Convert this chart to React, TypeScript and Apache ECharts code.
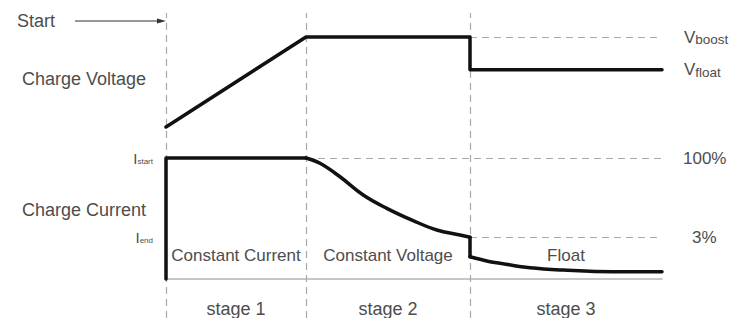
import React, { useEffect, useRef } from "react";
import * as echarts from "echarts";

// stage boundaries (time units)
const stageBounds = [0, 3.5, 7.6, 12.4];
const stageNames = ["stage 1", "stage 2", "stage 3"];
const modeNames = ["Constant Current", "Constant Voltage", "Float"];

// charge voltage (V)
const voltageTime = [0, 3.5, 7.6, 7.6, 12.4];
const voltageLevel = [12.2, 14.4, 14.4, 13.6, 13.6];
const vBoost = 14.4;

// charge current (relative level)
const ccTime = [0, 0, 3.5];
const ccLevel = [0, 100, 100];
const cvTime = [3.5, 3.85, 4.35, 4.93, 5.52, 6.18, 6.77, 7.35, 7.6];
const cvLevel = [100, 95.6, 84.5, 69.4, 58.4, 48.2, 40.5, 36.4, 34.5];
const dropTime = [7.6, 7.6];
const dropLevel = [34.5, 18.4];
const floatTime = [7.6, 8.1, 8.35, 9.1, 9.93, 11.18, 12.4];
const floatLevel = [18.4, 14.3, 13.0, 9.3, 7.4, 6.0, 6.0];
const iStart = 100;
const iEnd = 34.5;

const FONT = "'Liberation Sans', Arial, sans-serif";
const TXT = "#4d4d4d";
const DASH = "#a8a8a8";
const INK = "#111111";

const zip = (t: number[], v: number[]) => t.map((x, i) => [x, v[i]]);

const rich = {
  v: { fontSize: 17, color: TXT, fontFamily: FONT, verticalAlign: "bottom" },
  s: { fontSize: 13.5, color: TXT, fontFamily: FONT, verticalAlign: "bottom", padding: [0, 0, -1, 0] },
  i: { fontSize: 15, color: TXT, fontFamily: FONT, verticalAlign: "bottom" },
  t: { fontSize: 8, color: TXT, fontFamily: FONT, verticalAlign: "bottom" },
};

export default function App() {
  const ref = useRef<HTMLDivElement>(null);
  useEffect(() => {
    if (!ref.current) return;
    const chart = echarts.init(ref.current, null, { renderer: "svg" });
    const xBase = { type: "value", min: stageBounds[0], max: stageBounds[3] };
    const hidden = { show: false };
    const lineBase = {
      type: "line",
      symbol: "none",
      clip: false,
      silent: true,
      z: 5,
      lineStyle: { color: INK, width: 3.5, cap: "round", join: "round" },
    };
    chart.setOption({
      animation: false,
      textStyle: { fontFamily: FONT },
      grid: [
        { left: 166, right: 75, top: 13, bottom: 0 },
        { left: 166, right: 75, top: 37, bottom: 191 },
        { left: 166, right: 75, top: 158, bottom: 39 },
      ],
      xAxis: [
        { ...xBase, gridIndex: 0, ...hidden },
        { ...xBase, gridIndex: 1, ...hidden },
        {
          ...xBase,
          gridIndex: 2,
          axisLine: { show: true, lineStyle: { color: "#b5b5b5", width: 1.5 } },
          axisTick: { show: false },
          axisLabel: { show: false },
          splitLine: { show: false },
        },
      ],
      yAxis: [
        { type: "value", gridIndex: 0, min: 0, max: 1, show: false },
        { type: "value", gridIndex: 1, min: 12.2, max: 14.4, show: false },
        {
          type: "value",
          gridIndex: 2,
          min: 0,
          max: 100,
          axisLine: { show: false },
          axisTick: { show: false },
          splitLine: { show: false },
          axisLabel: {
            show: true,
            customValues: [iStart, iEnd],
            margin: 13,
            formatter: (v: number) => (v === iStart ? "{i|I}{t|start}" : "{i|I}{t|end}"),
            rich,
          },
        },
      ],
      series: [
        {
          ...lineBase,
          z: 1,
          xAxisIndex: 0,
          yAxisIndex: 0,
          data: [[0, 0]],
          lineStyle: { opacity: 0 },
          markLine: {
            silent: true,
            symbol: ["none", "none"],
            label: { show: false },
            lineStyle: { color: DASH, type: [7, 5], width: 1.2 },
            data: stageBounds.slice(0, 3).map((x) => ({ xAxis: x })),
          },
          markArea: {
            silent: true,
            itemStyle: { color: "transparent" },
            label: {
              show: true,
              position: "insideBottom",
              distance: 0,
              color: TXT,
              fontSize: 18,
              fontFamily: FONT,
            },
            data: stageNames.map((n, i) => [
              { name: n, xAxis: stageBounds[i] },
              { xAxis: stageBounds[i + 1] },
            ]),
          },
        },
        {
          ...lineBase,
          xAxisIndex: 1,
          yAxisIndex: 1,
          data: zip(voltageTime, voltageLevel),
          endLabel: {
            show: true,
            distance: 22,
            formatter: () => "{v|V}{s|float}",
            rich,
          },
          markLine: {
            silent: true,
            z: 1,
            symbol: ["none", "none"],
            lineStyle: { color: DASH, type: [7, 5], width: 1.2 },
            label: {
              show: true,
              position: "end",
              distance: 22,
              formatter: () => "{v|V}{s|boost}",
              rich,
            },
            data: [[{ coord: [stageBounds[2], vBoost] }, { coord: [stageBounds[3], vBoost] }]],
          },
        },
        {
          ...lineBase,
          xAxisIndex: 2,
          yAxisIndex: 2,
          data: zip(ccTime, ccLevel),
          markLine: {
            silent: true,
            z: 1,
            symbol: ["none", "none"],
            lineStyle: { color: DASH, type: [7, 5], width: 1.2 },
            label: {
              show: true,
              position: "end",
              color: TXT,
              fontSize: 17,
              fontFamily: FONT,
              formatter: (p: any) => p.name,
            },
            data: [
              [
                { name: "100%", coord: [stageBounds[1], iStart], label: { distance: 21 } },
                { coord: [stageBounds[3], iStart] },
              ],
              [
                { name: "3%", coord: [stageBounds[2], iEnd], label: { distance: 30 } },
                { coord: [stageBounds[3], iEnd] },
              ],
            ],
          },
          markArea: {
            silent: true,
            itemStyle: { color: "transparent" },
            label: {
              show: true,
              position: "insideBottom",
              distance: 15,
              color: TXT,
              fontSize: 17,
              fontFamily: FONT,
            },
            data: modeNames.map((n, i) => [
              { name: n, xAxis: stageBounds[i] },
              { xAxis: stageBounds[i + 1] },
            ]),
          },
        },
        { ...lineBase, xAxisIndex: 2, yAxisIndex: 2, data: zip(cvTime, cvLevel), smooth: 0.4 },
        { ...lineBase, xAxisIndex: 2, yAxisIndex: 2, data: zip(dropTime, dropLevel) },
        { ...lineBase, xAxisIndex: 2, yAxisIndex: 2, data: zip(floatTime, floatLevel), smooth: 0.4 },
      ],
      graphic: [
        {
          type: "text",
          left: 17,
          top: 12,
          style: { text: "Start", fontSize: 18, fill: TXT, fontFamily: FONT },
        },
        {
          type: "line",
          shape: { x1: 75, y1: 21, x2: 160, y2: 21 },
          style: { stroke: "#333", lineWidth: 1.2 },
        },
        {
          type: "polygon",
          shape: { points: [[166, 21], [157, 18.5], [157, 23.5]] },
          style: { fill: "#333" },
        },
        {
          type: "text",
          left: 22,
          top: 70,
          style: { text: "Charge Voltage", fontSize: 18, fill: TXT, fontFamily: FONT },
        },
        {
          type: "text",
          left: 22,
          top: 201,
          style: { text: "Charge Current", fontSize: 18, fill: TXT, fontFamily: FONT },
        },
      ],
    });
    return () => chart.dispose();
  }, []);
  return (
    <div
      ref={ref}
      style={{ position: "fixed", left: 0, top: 0, width: 737, height: 318, background: "#fff" }}
    />
  );
}
